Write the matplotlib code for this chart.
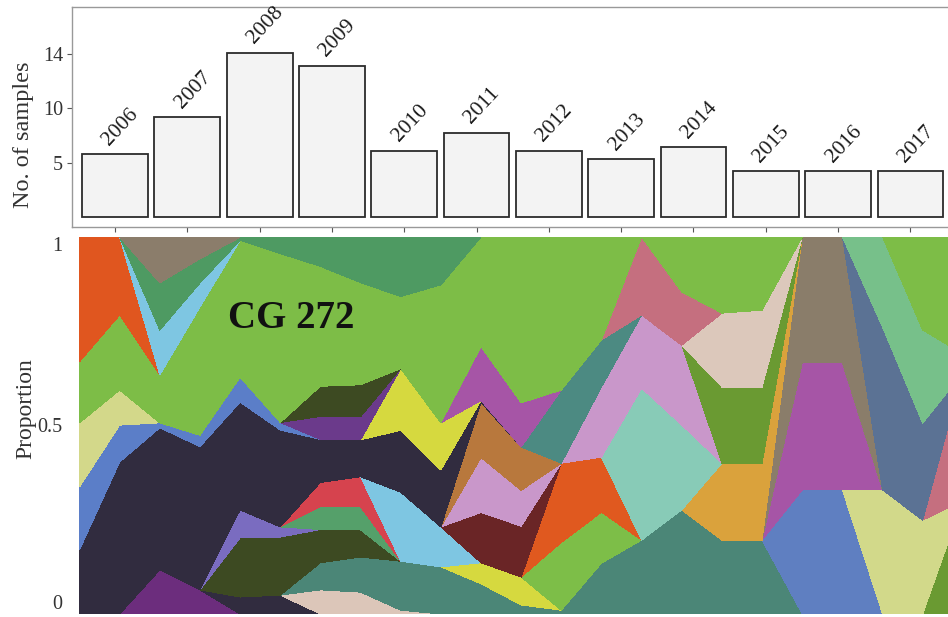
import numpy as np
import matplotlib.pyplot as plt

plt.rcParams['font.family'] = ['Liberation Serif', 'DejaVu Serif']

# 上图：每年样本数
years = ['2006', '2007', '2008', '2009', '2010', '2011',
         '2012', '2013', '2014', '2015', '2016', '2017']
n_samples = [5.8, 9.2, 15.1, 13.9, 6.1, 7.7, 6.1, 5.3, 6.4, 4.2, 4.2, 4.2]
ytick_pos = [5, 10, 15]
ytick_lab = ['5', '10', '14']   # 原图标签如此

# 下图：各克隆群比例 (23个采样点, 自下而上堆叠)
x_pts = np.arange(23)
#              k0    k1    k2    k3    k4    k5    k6    k7    k8    k9    k10   k11   k12   k13   k14   k15   k16   k17   k18   k19   k20   k21   k22
purple     = [0,    0,    .117, .064, 0,    0,    0,    0,    0,    0,    0,    0,    0,    0,    0,    0,    0,    0,    0,    0,    0,    0,    0]
navy_low   = [0,    0,    0,    0,    .045, .05,  0,    0,    0,    0,    0,    0,    0,    0,    0,    0,    0,    0,    0,    0,    0,    0,    0]
beige      = [0,    0,    0,    0,    0,    0,    .064, .058, .01,  0,    0,    0,    0,    0,    0,    0,    0,    0,    0,    0,    0,    0,    0]
teal       = [0,    0,    0,    0,    0,    0,    .072, .093, .13,  .125, .08,  .024, .01,  .135, .196, .276, .196, .196, 0,    0,    0,    0,    0]
olive1     = [0,    0,    0,    0,    .157, .154, .088, .072, 0,    0,    0,    0,    0,    0,    0,    0,    0,    0,    0,    0,    0,    0,    0]
lavender   = [0,    0,    0,    0,    .074, .027, 0,    0,    0,    0,    0,    0,    0,    0,    0,    0,    0,    0,    0,    0,    0,    0,    0]
green2     = [0,    0,    0,    0,    0,    0,    .061, .061, 0,    0,    0,    0,    0,    0,    0,    0,    0,    0,    0,    0,    0,    0,    0]
red        = [0,    0,    0,    0,    0,    0,    .064, .08,  0,    0,    0,    0,    0,    0,    0,    0,    0,    0,    0,    0,    0,    0,    0]
blue2      = [0,    0,    0,    0,    0,    0,    0,    0,    0,    0,    0,    0,    0,    0,    0,    0,    0,    0,    .329, .329, 0,    0,    0]
green4     = [0,    0,    0,    0,    0,    0,    0,    0,    0,    0,    0,    0,    0,    0,    0,    0,    0,    0,    0,    0,    0,    0,    .30]
pale2      = [0,    0,    0,    0,    0,    0,    0,    0,    0,    0,    0,    0,    0,    0,    0,    0,    0,    0,    0,    0,    .329, .249, 0]
magenta2   = [0,    0,    0,    0,    0,    0,    0,    0,    0,    0,    0,    0,    0,    0,    0,    0,    0,    0,    .337, .337, 0,    0,    0]
browngray2 = [0,    0,    0,    0,    0,    0,    0,    0,    0,    0,    0,    0,    0,    0,    0,    0,    0,    0,    .334, .334, 0,    0,    0]
yellow2    = [0,    0,    0,    0,    0,    0,    0,    0,    0,    0,    .056, .074, 0,    0,    0,    0,    0,    0,    0,    0,    0,    0,    0]
lgreen2    = [0,    0,    0,    0,    0,    0,    0,    0,    0,    0,    0,    0,    .18,  .135, 0,    0,    0,    0,    0,    0,    0,    0,    0]
orange2    = [0,    0,    0,    0,    0,    0,    0,    0,    0,    0,    0,    0,    .21,  .146, 0,    0,    0,    0,    0,    0,    0,    0,    0]
lblue2     = [0,    0,    0,    0,    0,    0,    0,    0,    .183, .106, 0,    0,    0,    0,    0,    0,    0,    0,    0,    0,    0,    0,    0]
maroon     = [0,    0,    0,    0,    0,    0,    0,    0,    0,    0,    .133, .135, 0,    0,    0,    0,    0,    0,    0,    0,    0,    0,    0]
pink       = [0,    0,    0,    0,    0,    0,    0,    0,    0,    0,    .146, .095, 0,    0,    0,    0,    0,    0,    0,    0,    0,    0,    0]
brown      = [0,    0,    0,    0,    0,    0,    0,    0,    0,    0,    .146, .115, 0,    0,    0,    0,    0,    0,    0,    0,    0,    0,    0]
navy       = [.17,  .403, .377, .38,  .286, .257, .114, .098, .164, .151, .005, 0,    0,    0,    0,    0,    0,    0,    0,    0,    0,    0,    0]
blue       = [.167, .098, .013, .03,  .066, .02,  0,    0,    0,    0,    0,    0,    0,    0,    0,    0,    0,    0,    0,    0,    0,    0,    0]
yellow     = [0,    0,    0,    0,    0,    0,    0,    0,    .164, .125, 0,    0,    0,    0,    0,    0,    0,    0,    0,    0,    0,    0,    0]
purple2    = [0,    0,    0,    0,    0,    0,    .061, .061, 0,    0,    0,    0,    0,    0,    0,    0,    0,    0,    0,    0,    0,    0,    0]
olive2     = [0,    0,    0,    0,    0,    0,    .08,  .085, 0,    0,    0,    0,    0,    0,    0,    0,    0,    0,    0,    0,    0,    0,    0]
paleyel    = [.17,  .093, 0,    0,    0,    0,    0,    0,    0,    0,    0,    0,    0,    0,    0,    0,    0,    0,    0,    0,    0,    0,    0]
gold       = [0,    0,    0,    0,    0,    0,    0,    0,    0,    0,    0,    0,    0,    0,    0,    0,    .204, .204, 0,    0,    0,    0,    0]
mint       = [0,    0,    0,    0,    0,    0,    0,    0,    0,    0,    0,    0,    0,    0,    .403, .225, 0,    0,    0,    0,    0,    0,    0]
pink2      = [0,    0,    0,    0,    0,    0,    0,    0,    0,    0,    0,    0,    0,    .186, .194, .212, 0,    0,    0,    0,    0,    0,    0]
teal2      = [0,    0,    0,    0,    0,    0,    0,    0,    0,    0,    0,    0,    .194, .125, 0,    0,    0,    0,    0,    0,    0,    0,    0]
magenta    = [0,    0,    0,    0,    0,    0,    0,    0,    0,    0,    .143, .117, 0,    0,    0,    0,    0,    0,    0,    0,    0,    0,    0]
green3     = [0,    0,    0,    0,    0,    0,    0,    0,    0,    0,    0,    0,    0,    0,    0,    0,    .202, .202, 0,    0,    0,    0,    0]
beige2     = [0,    0,    0,    0,    0,    0,    0,    0,    0,    0,    0,    0,    0,    0,    0,    0,    .196, .204, 0,    0,    0,    0,    0]
rose       = [0,    0,    0,    0,    0,    0,    0,    0,    0,    0,    0,    0,    0,    0,    .207, .141, 0,    0,    0,    0,    0,    0,    .34]
slate      = [0,    0,    0,    0,    0,    0,    0,    0,    0,    0,    0,    0,    0,    0,    0,    0,    0,    0,    0,    0,    .432, .257, 0]
mint2      = [0,    0,    0,    0,    0,    0,    0,    0,    0,    0,    0,    0,    0,    0,    0,    0,    0,    0,    0,    0,    .239, .247, .05]
cg272      = [.162, .199, .127, .34,  .363, .448, .318, .271, .191, .366, .291, .44,  .406, .273, 0,    .146, .202, .194, 0,    0,    0,    .247, .31]
orange     = [.332, .207, 0,    0,    0,    0,    0,    0,    0,    0,    0,    0,    0,    0,    0,    0,    0,    0,    0,    0,    0,    0,    0]
lblue      = [0,    0,    .119, .064, 0,    0,    0,    0,    0,    0,    0,    0,    0,    0,    0,    0,    0,    0,    0,    0,    0,    0,    0]
medgreen   = [0,    0,    .125, .064, .008, .045, .08,  .122, .157, .127, 0,    0,    0,    0,    0,    0,    0,    0,    0,    0,    0,    0,    0]
browngray  = [0,    0,    .122, .058, 0,    0,    0,    0,    0,    0,    0,    0,    0,    0,    0,    0,    0,    0,    0,    0,    0,    0,    0]

layers = [purple, navy_low, beige, teal, olive1, lavender, green2, red,
          blue2, green4, pale2, magenta2, browngray2, yellow2, lgreen2, orange2,
          lblue2, maroon, pink, brown, navy, blue, yellow, purple2, olive2,
          paleyel, gold, mint, pink2, teal2, magenta, green3, beige2, rose,
          slate, mint2, cg272, orange, lblue, medgreen, browngray]
colors = ['#6c2d7d', '#312c3f', '#dcc6b9', '#4b8677', '#3d4a22', '#7a6cc0', '#55a06a', '#d6434e',
          '#5f7fc1', '#6a9a32', '#d2d98a', '#a655a6', '#8a7d6a', '#d6d93f', '#7dbe48', '#e0591f',
          '#7ec6e2', '#6a2526', '#c997ca', '#b8783d', '#312c3f', '#5b7ec8', '#d6d93f', '#6b3a8b', '#3d4a22',
          '#d3d88a', '#daa23c', '#88cbb7', '#c997ca', '#4c8a82', '#a655a6', '#6a9a32', '#dcc8bb', '#c56f7f',
          '#5b7294', '#77c08a', '#7dbd47', '#e0561f', '#7ec6e2', '#4e9a62', '#8b7d6b']

fig = plt.figure(figsize=(9.48, 6.17), dpi=100)

# ---- 上图 ----
ax1 = fig.add_axes([72 / 948, 1 - 227 / 617, 876 / 948, 220 / 617])
xb = np.arange(len(years))
ax1.bar(xb, n_samples, width=0.91, color='#f3f3f3', edgecolor='#2b2b2b', linewidth=1.3)
for i, (yr, v) in enumerate(zip(years, n_samples)):
    ax1.text(i + 0.08, v + 2.5, yr, rotation=47, ha='center', va='center',
             fontsize=15.5, color='#1a1a1a')
ax1.set_xlim(-0.595, 11.52)
ax1.set_ylim(-0.92, 19.3)
ax1.set_xticks(xb)
ax1.set_xticklabels([])
ax1.set_yticks(ytick_pos)
ax1.set_yticklabels(ytick_lab, fontsize=14.5, color='#333333')
ax1.tick_params(axis='both', length=3.5, width=0.8, color='#555555', pad=3)
for s in ax1.spines.values():
    s.set_color('#999999')
    s.set_linewidth(1.0)
ax1.spines['right'].set_visible(False)
ax1.set_ylabel('No. of samples', fontsize=17.5, color='#333333')
ax1.yaxis.set_label_coords(-0.043, 0.42)

# ---- 下图 ----
ax2 = fig.add_axes([78 / 948, 3 / 617, 870 / 948, 377 / 617])
ax2.stackplot(x_pts, *layers, colors=colors, linewidth=0, antialiased=False)
ax2.set_xlim(-0.037, 21.63)
ax2.set_ylim(0, 1)
for s in ax2.spines.values():
    s.set_visible(False)
ax2.set_xticks([])
ax2.set_yticks([0, 0.5, 1])
ax2.set_yticklabels(['0', '0.5', '1'], fontsize=14.5, color='#333333')
ax2.tick_params(axis='y', length=0, pad=11)
ax2.get_yticklabels()[0].set_verticalalignment('bottom')
ax2.get_yticklabels()[2].set_verticalalignment('top')
ax2.text(5.27, 0.785, 'CG 272', fontsize=28, fontweight='bold', ha='center', va='center',
         color='#111111')
ax2.set_ylabel('Proportion', fontsize=17, color='#333333')
ax2.yaxis.set_label_coords(-0.048, 0.546)

fig.savefig('out.png', dpi=100)
